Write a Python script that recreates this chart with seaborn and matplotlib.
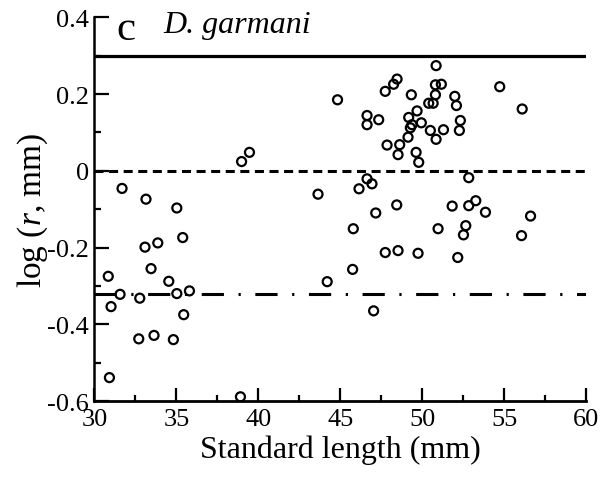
import matplotlib
matplotlib.use("Agg")
import matplotlib.pyplot as plt
import seaborn as sns
import numpy as np
import pandas as pd
from matplotlib.ticker import MultipleLocator

# Data
standard_length = [
    30.84, 30.91, 31.01, 31.56, 31.68, 32.70, 32.76, 33.08, 33.14, 33.45,
    33.63, 33.86, 34.53, 34.81, 35.02, 35.02, 35.38, 35.44, 35.79, 38.90,
    38.97, 39.45,
    43.63, 44.19, 44.82, 45.74, 45.78, 46.13, 46.62, 46.92, 46.62, 46.62,
    47.02, 47.15, 47.33, 47.73, 47.73, 47.84, 48.24, 48.45, 48.43, 48.51,
    48.51, 48.61, 49.12, 49.16, 49.26, 49.32, 49.36, 49.61, 49.67, 49.73,
    49.77, 49.93, 50.38, 50.48, 50.65, 50.79, 50.79, 50.83, 50.83, 50.95,
    51.15, 51.28, 51.81, 51.97, 52.07, 52.15, 52.25, 52.31, 52.50, 52.64,
    52.82, 52.82, 53.25, 53.84, 54.71, 56.04, 56.08, 56.59,
]
log_r = [
    -0.275, -0.539, -0.354, -0.322, -0.046, -0.438, -0.332, -0.199, -0.074, -0.255,
    -0.429, -0.188, -0.288, -0.440, -0.097, -0.320, -0.174, -0.375, -0.313, -0.589,
    0.024, 0.048,
    -0.061, -0.289, 0.185, -0.257, -0.151, -0.047, -0.021, -0.034, 0.144, 0.120,
    -0.365, -0.110, 0.133, 0.207, -0.213, 0.067, 0.2255, 0.239, -0.089, 0.042,
    -0.208, 0.068, 0.0875, 0.139, 0.112, 0.198, 0.120, 0.048, 0.156, -0.215,
    0.022, 0.125, 0.176, 0.105, 0.176, 0.224, 0.198, 0.274, 0.082, -0.151,
    0.2255, 0.107, -0.092, 0.194, 0.170, -0.226, 0.105, 0.131, -0.167, -0.143,
    -0.018, -0.091, -0.078, -0.108, 0.219, -0.169, 0.161, -0.118,
]
ref_solid = 0.30
ref_dashed = 0.0
ref_dashdot = -0.32
x_ticks = [30, 35, 40, 45, 50, 55, 60]
y_ticks = [-0.6, -0.4, -0.2, 0, 0.2, 0.4]
y_tick_labels = ["-0.6", "-0.4", "-0.2", "0", "0.2", "0.4"]

df = pd.DataFrame({"sl": standard_length, "logr": log_r})

sns.set_theme(style="ticks")
plt.rcParams["font.family"] = ["Liberation Serif", "DejaVu Serif"]
plt.rcParams["mathtext.fontset"] = "custom"
plt.rcParams["mathtext.rm"] = "Liberation Serif"
plt.rcParams["mathtext.it"] = "Liberation Serif:italic"
plt.rcParams["lines.scale_dashes"] = False
for k in ["text.color", "axes.labelcolor", "xtick.color", "ytick.color", "axes.edgecolor"]:
    plt.rcParams[k] = "black"

fig = plt.figure(figsize=(6.03, 4.81), dpi=100)
ax = fig.add_axes([0.1567, 0.1642, 0.9726 - 0.1567, 0.962 - 0.1642])

ax.axhline(ref_solid, color="black", lw=2.3, zorder=1)
ax.axhline(ref_dashed, color="black", lw=2.2, ls=(0, (6.5, 4.0)), zorder=1)
ax.axhline(ref_dashdot, color="black", lw=2.2, ls=(0, (16, 10.5, 1.6, 10.5)), zorder=1)

sns.scatterplot(data=df, x="sl", y="logr", ax=ax, marker="o", s=42,
                facecolor="none", edgecolor="black", linewidth=1.6, zorder=3)

ax.set_xlim(30, 60)
ax.set_ylim(-0.6, 0.4)
ax.set_xticks(x_ticks)
ax.set_yticks(y_ticks)
ax.set_yticklabels(y_tick_labels)
ax.xaxis.set_minor_locator(MultipleLocator(2.5))
ax.yaxis.set_minor_locator(MultipleLocator(0.1))
ax.tick_params(axis="both", which="major", direction="in", width=1.6, labelsize=19, colors="black")
ax.tick_params(axis="x", which="major", length=9.5, pad=5)
ax.tick_params(axis="y", which="major", length=11, pad=4)
ax.tick_params(axis="x", which="minor", direction="in", length=4.5, width=1.6)
ax.tick_params(axis="y", which="minor", direction="in", length=5, width=1.6)
for s in ["top", "right"]:
    ax.spines[s].set_visible(False)
ax.spines["left"].set_linewidth(1.8)
ax.spines["bottom"].set_linewidth(2.0)

ax.set_xlabel("Standard length (mm)", fontsize=23, labelpad=3)
ax.set_ylabel(r"log ($\mathit{r}$, mm)", fontsize=24, labelpad=-2)

ax.text(0.045, 1.02, "c", transform=ax.transAxes, fontsize=31, va="top", ha="left")
ax.text(0.14, 1.02, "D. garmani", transform=ax.transAxes, fontsize=23,
        style="italic", va="top", ha="left")

fig.savefig("out.png", dpi=100, facecolor="white")
